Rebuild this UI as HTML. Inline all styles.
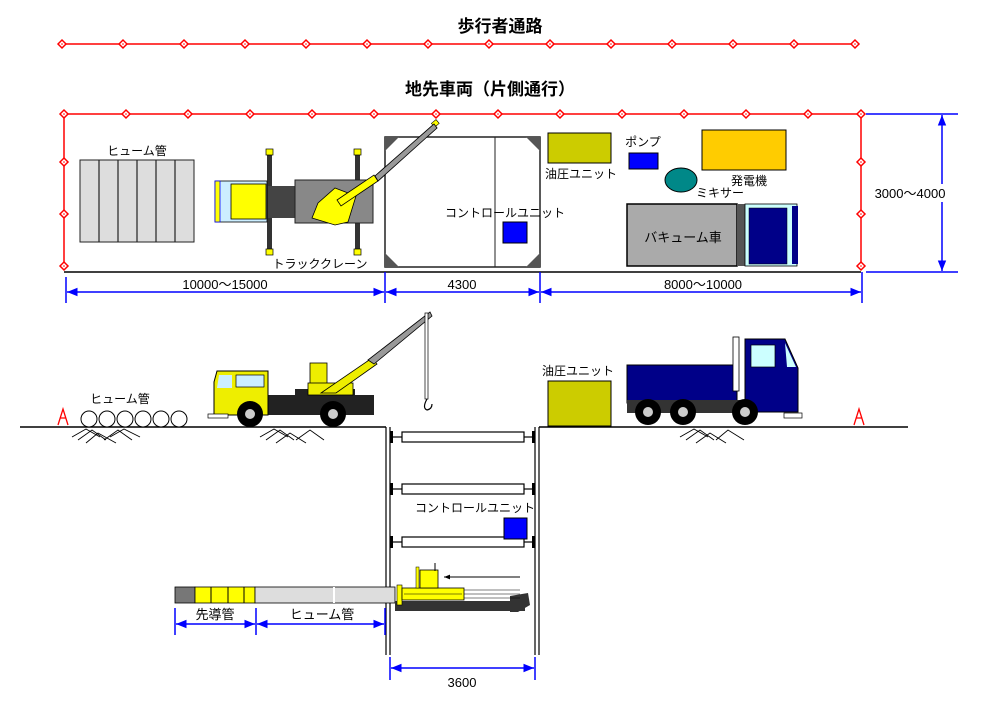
<!DOCTYPE html>
<html><head><meta charset="utf-8"><style>
html,body{margin:0;padding:0;background:#fff;}
svg{display:block;}
text{font-family:"Liberation Sans","Noto Sans CJK JP",sans-serif;}
</style></head><body>
<svg width="1000" height="701" viewBox="0 0 1000 701" xmlns="http://www.w3.org/2000/svg">
<defs>
<g id="mk"><path d="M-4,0 L0,-4 L4,0 L0,4 Z" fill="#fff" stroke="#f00" stroke-width="1.5"/><circle r="0.8" fill="#f00"/></g>
<marker id="ar" viewBox="0 0 10 10" refX="10" refY="5" markerWidth="7" markerHeight="7" orient="auto-start-reverse"><path d="M0,1 L10,5 L0,9 Z" fill="#00f"/></marker>
<marker id="ak" viewBox="0 0 10 10" refX="10" refY="5" markerWidth="6" markerHeight="6" orient="auto"><path d="M0,1 L10,5 L0,9 Z" fill="#000"/></marker>
</defs>

<!-- titles -->
<text x="500" y="32" font-size="17" font-weight="bold" text-anchor="middle">歩行者通路</text>
<text x="490" y="95" font-size="17" font-weight="bold" text-anchor="middle">地先車両（片側通行）</text>

<!-- top fence line -->
<line x1="62" y1="44" x2="858" y2="44" stroke="#f00" stroke-width="1.5"/>
<g>
<use href="#mk" x="62" y="44"/><use href="#mk" x="123" y="44"/><use href="#mk" x="184" y="44"/><use href="#mk" x="245" y="44"/><use href="#mk" x="306" y="44"/><use href="#mk" x="367" y="44"/><use href="#mk" x="428" y="44"/><use href="#mk" x="489" y="44"/><use href="#mk" x="550" y="44"/><use href="#mk" x="611" y="44"/><use href="#mk" x="672" y="44"/><use href="#mk" x="733" y="44"/><use href="#mk" x="794" y="44"/><use href="#mk" x="855" y="44"/>
</g>

<!-- plan fence -->
<polyline points="64,268 64,114 861,114 861,268" fill="none" stroke="#f00" stroke-width="1.5"/>
<line x1="64" y1="272" x2="861" y2="272" stroke="#000" stroke-width="1.5"/>
<g>
<use href="#mk" x="64" y="114"/><use href="#mk" x="126" y="114"/><use href="#mk" x="188" y="114"/><use href="#mk" x="250" y="114"/><use href="#mk" x="312" y="114"/><use href="#mk" x="374" y="114"/><use href="#mk" x="436" y="114"/><use href="#mk" x="498" y="114"/><use href="#mk" x="560" y="114"/><use href="#mk" x="622" y="114"/><use href="#mk" x="684" y="114"/><use href="#mk" x="746" y="114"/><use href="#mk" x="808" y="114"/><use href="#mk" x="861" y="114"/>
<use href="#mk" x="64" y="162"/><use href="#mk" x="64" y="214"/><use href="#mk" x="64" y="266"/>
<use href="#mk" x="861" y="162"/><use href="#mk" x="861" y="214"/><use href="#mk" x="861" y="266"/>
</g>

<!-- plan dimensions -->
<g stroke="#00f" stroke-width="1.5">
<line x1="66" y1="277" x2="66" y2="303"/><line x1="385" y1="272" x2="385" y2="303"/><line x1="540" y1="272" x2="540" y2="303"/><line x1="862" y1="272" x2="862" y2="303"/>
<line x1="67" y1="292" x2="384" y2="292" marker-start="url(#ar)" marker-end="url(#ar)"/>
<line x1="386" y1="292" x2="539" y2="292" marker-start="url(#ar)" marker-end="url(#ar)"/>
<line x1="541" y1="292" x2="861" y2="292" marker-start="url(#ar)" marker-end="url(#ar)"/>
<line x1="866" y1="114" x2="958" y2="114"/><line x1="866" y1="272" x2="958" y2="272"/>
<line x1="942" y1="115" x2="942" y2="271" marker-start="url(#ar)" marker-end="url(#ar)"/>
</g>
<text x="225" y="289" font-size="13" text-anchor="middle">10000～15000</text>
<text x="462" y="289" font-size="13" text-anchor="middle">4300</text>
<text x="703" y="289" font-size="13" text-anchor="middle">8000～10000</text>
<rect x="870" y="184" width="82" height="18" fill="#fff"/>
<text x="910" y="198" font-size="13" text-anchor="middle">3000～4000</text>

<!-- hume pipes plan -->
<text x="137" y="155" font-size="12" text-anchor="middle">ヒューム管</text>
<rect x="80" y="160" width="114" height="82" fill="#ddd" stroke="#222" stroke-width="1"/>
<g stroke="#222" stroke-width="1.2"><line x1="99" y1="160" x2="99" y2="242"/><line x1="118" y1="160" x2="118" y2="242"/><line x1="137" y1="160" x2="137" y2="242"/><line x1="156" y1="160" x2="156" y2="242"/><line x1="175" y1="160" x2="175" y2="242"/></g>

<!-- track crane plan -->
<rect x="267" y="151" width="5" height="102" fill="#333"/><rect x="355" y="151" width="5" height="102" fill="#333"/>
<rect x="266" y="149" width="7" height="6" fill="#ff0" stroke="#000" stroke-width="0.7"/><rect x="354" y="149" width="7" height="6" fill="#ff0" stroke="#000" stroke-width="0.7"/>
<rect x="266" y="249" width="7" height="6" fill="#ff0" stroke="#000" stroke-width="0.7"/><rect x="354" y="249" width="7" height="6" fill="#ff0" stroke="#000" stroke-width="0.7"/>
<rect x="215" y="181" width="52" height="41" fill="#cef" stroke="#000" stroke-width="0.8"/>
<rect x="231" y="184" width="35" height="35" fill="#ff0" stroke="#000" stroke-width="0.8"/>
<rect x="215" y="181" width="5" height="41" fill="#ff0" stroke="#00f" stroke-width="0.8"/>
<rect x="268" y="186" width="28" height="32" fill="#444"/>
<rect x="295" y="180" width="78" height="43" fill="#888" stroke="#222" stroke-width="1"/>
<path d="M335,188 L356,196 L348,222 L335,225 L312,218 L318,203 Z" fill="#ff0" stroke="#000" stroke-width="0.8"/>
<path d="M337,200 L374,175 L378,181 L341,206 Z" fill="#ff0" stroke="#000" stroke-width="0.8"/>
<path d="M375,176 L434,124 L437,128 L378,181 Z" fill="#999" stroke="#000" stroke-width="0.8"/>
<rect x="432" y="121" width="6" height="5" fill="#ff0" stroke="#000" stroke-width="0.6" transform="rotate(-40 435 123)"/>
<text x="320" y="268" font-size="12" text-anchor="middle">トラッククレーン</text>

<!-- control unit plan -->
<rect x="385" y="137" width="155" height="130" fill="#fff" stroke="#222" stroke-width="1.5"/>
<line x1="495" y1="137" x2="495" y2="267" stroke="#222" stroke-width="1"/>
<g fill="#555"><path d="M385,137 L399,137 L385,151 Z"/><path d="M540,137 L526,137 L540,151 Z"/><path d="M385,267 L399,267 L385,253 Z"/><path d="M540,267 L526,267 L540,253 Z"/></g>
<path d="M375,176 L434,124 L437,128 L378,181 Z" fill="#999" stroke="#000" stroke-width="0.8"/>
<rect x="468" y="205" width="78" height="14" fill="#fff" opacity="0"/>
<text x="505" y="217" font-size="12" text-anchor="middle">コントロールユニット</text>
<rect x="503" y="222" width="24" height="21" fill="#00f" stroke="#000" stroke-width="1"/>

<!-- hydraulic etc plan -->
<rect x="548" y="133" width="63" height="30" fill="#cc0" stroke="#000" stroke-width="1"/>
<text x="581" y="178" font-size="12" text-anchor="middle">油圧ユニット</text>
<text x="643" y="146" font-size="12" text-anchor="middle">ポンプ</text>
<rect x="629" y="153" width="29" height="16" fill="#00f" stroke="#000" stroke-width="1"/>
<ellipse cx="681" cy="180" rx="16" ry="12" fill="#088" stroke="#000" stroke-width="1"/>
<text x="720" y="197" font-size="12" text-anchor="middle">ミキサー</text>
<rect x="702" y="130" width="84" height="40" fill="#fc0" stroke="#000" stroke-width="1"/>
<text x="749" y="185" font-size="12" text-anchor="middle">発電機</text>
<rect x="627" y="204" width="110" height="62" fill="#aaa" stroke="#000" stroke-width="1.5"/>
<rect x="737" y="204" width="8" height="62" fill="#555"/>
<rect x="745" y="204" width="52" height="62" fill="#cff" stroke="#000" stroke-width="0.8"/>
<rect x="749" y="208" width="38" height="56" fill="#008" stroke="#000" stroke-width="0.5"/>
<rect x="792" y="206" width="6" height="58" fill="#008"/>
<text x="683" y="242" font-size="13" text-anchor="middle">バキューム車</text>

<!-- section ground -->
<line x1="20" y1="427" x2="386" y2="427" stroke="#000" stroke-width="1.5"/>
<line x1="539" y1="427" x2="908" y2="427" stroke="#000" stroke-width="1.5"/>
<g fill="none" stroke="#000" stroke-width="1.2">
<line x1="386" y1="427" x2="386" y2="655"/><line x1="390" y1="427" x2="390" y2="655"/>
<line x1="535" y1="427" x2="535" y2="655"/><line x1="539" y1="427" x2="539" y2="655"/>
<rect x="402" y="432" width="122" height="10" fill="#fff"/>
<rect x="402" y="484" width="122" height="10" fill="#fff"/>
<rect x="402" y="537" width="122" height="10" fill="#fff"/>
<line x1="390" y1="437" x2="402" y2="437"/><line x1="524" y1="437" x2="535" y2="437"/>
<line x1="390" y1="489" x2="402" y2="489"/><line x1="524" y1="489" x2="535" y2="489"/>
<line x1="390" y1="542" x2="402" y2="542"/><line x1="524" y1="542" x2="535" y2="542"/>
</g>
<g fill="#000">
<rect x="390" y="431" width="3" height="12"/><rect x="532" y="431" width="3" height="12"/>
<rect x="390" y="483" width="3" height="12"/><rect x="532" y="483" width="3" height="12"/>
<rect x="390" y="536" width="3" height="12"/><rect x="532" y="536" width="3" height="12"/>
</g>

<!-- hatching -->
<g stroke="#000" stroke-width="0.9" fill="none">
<path d="M72,437 L86,429 L100,437 M78,440 L92,430 L106,440 M86,443 L98,433 L116,443 M104,440 L118,430 L132,440 M110,437 L124,429 L140,437"/>
<path d="M260,437 L274,429 L288,437 M266,440 L280,430 L294,440 M276,443 L290,433 L306,443 M296,440 L310,430 L324,440"/>
<path d="M680,437 L694,429 L708,437 M686,440 L700,430 L714,440 M696,443 L710,433 L726,443 M716,440 L728,430 L744,440"/>
</g>
<text x="120" y="403" font-size="12" text-anchor="middle">ヒューム管</text>
<g fill="#fff" stroke="#000" stroke-width="1">
<circle cx="89" cy="419" r="8"/><circle cx="107" cy="419" r="8"/><circle cx="125" cy="419" r="8"/><circle cx="143" cy="419" r="8"/><circle cx="161" cy="419" r="8"/><circle cx="179" cy="419" r="8"/>
</g>
<g fill="none" stroke="#f00" stroke-width="1.3"><path d="M58,425 L63,409 L68,425 M60,418 L66,418"/><path d="M854,425 L859,409 L864,425 M856,418 L862,418"/></g>

<!-- side crane truck -->
<rect x="268" y="395" width="106" height="20" fill="#222"/>
<rect x="295" y="389" width="60" height="8" fill="#222"/>
<path d="M217,371 L268,371 L268,415 L214,415 L214,382 Z" fill="#ee0" stroke="#000" stroke-width="1"/>
<rect x="236" y="375" width="28" height="12" fill="#cef" stroke="#000" stroke-width="0.7"/>
<path d="M219,375 L232,375 L232,388 L217,388 Z" fill="#cef"/>
<rect x="208" y="414" width="20" height="4" fill="#fff" stroke="#000" stroke-width="0.7"/>
<rect x="310" y="363" width="17" height="26" fill="#ee0" stroke="#000" stroke-width="0.8"/>
<rect x="308" y="383" width="45" height="12" fill="#ee0" stroke="#000" stroke-width="0.8"/>
<path d="M321,393 L372,358 L377,364 L336,393 Z" fill="#ee0" stroke="#000" stroke-width="0.8"/>
<path d="M368,360 L430,312 L432,316 L374,364 Z" fill="#999" stroke="#000" stroke-width="0.8"/>
<rect x="425" y="313" width="3" height="86" fill="#fff" stroke="#000" stroke-width="0.7"/>
<path d="M427,399 Q422,408 427,410 Q432,409 432,404" fill="none" stroke="#000" stroke-width="1.2"/>
<circle cx="250" cy="414" r="13" fill="#000"/><circle cx="250" cy="414" r="5" fill="#ccc"/>
<circle cx="333" cy="414" r="13" fill="#000"/><circle cx="333" cy="414" r="5" fill="#ccc"/>

<!-- hydraulic section -->
<text x="578" y="375" font-size="12" text-anchor="middle">油圧ユニット</text>
<rect x="548" y="381" width="63" height="45" fill="#cc0" stroke="#000" stroke-width="1"/>

<!-- side vacuum truck -->
<rect x="627" y="365" width="110" height="38" fill="#008" stroke="#000" stroke-width="1"/>
<rect x="627" y="400" width="120" height="13" fill="#333"/>
<rect x="733" y="337" width="6" height="54" fill="#fff" stroke="#000" stroke-width="0.8"/>
<path d="M745,339 L785,339 L798,368 L798,412 L745,412 Z" fill="#008" stroke="#000" stroke-width="1"/>
<rect x="751" y="345" width="24" height="22" fill="#cff" stroke="#000" stroke-width="0.7"/>
<path d="M785,343 L796,367 L787,367 Z" fill="#cff"/>
<rect x="784" y="413" width="18" height="5" fill="#fff" stroke="#000" stroke-width="0.7"/>
<circle cx="648" cy="412" r="13" fill="#000"/><circle cx="648" cy="412" r="5" fill="#ccc"/>
<circle cx="683" cy="412" r="13" fill="#000"/><circle cx="683" cy="412" r="5" fill="#ccc"/>
<circle cx="745" cy="412" r="13" fill="#000"/><circle cx="745" cy="412" r="5" fill="#ccc"/>

<!-- control unit section -->
<text x="475" y="512" font-size="12" text-anchor="middle">コントロールユニット</text>
<rect x="504" y="518" width="23" height="21" fill="#00f" stroke="#000" stroke-width="1"/>

<!-- pipe line -->
<rect x="175" y="587" width="20" height="16" fill="#777" stroke="#000" stroke-width="0.8"/>
<rect x="195" y="587" width="60" height="16" fill="#ff0" stroke="#000" stroke-width="0.8"/>
<g stroke="#000" stroke-width="1"><line x1="211" y1="587" x2="211" y2="603"/><line x1="228" y1="587" x2="228" y2="603"/><line x1="244" y1="587" x2="244" y2="603"/></g>
<rect x="255" y="587" width="140" height="16" fill="#ddd" stroke="#000" stroke-width="0.8"/>
<line x1="334" y1="587" x2="334" y2="603" stroke="#fff" stroke-width="2"/>

<!-- machine -->
<rect x="395" y="601" width="130" height="10" fill="#333"/>
<path d="M510,596 L528,593 L530,605 L518,612 L510,612 Z" fill="#333"/>
<rect x="397" y="585" width="5" height="20" fill="#ff0" stroke="#000" stroke-width="0.6"/>
<rect x="402" y="588" width="62" height="12" fill="#ff0" stroke="#000" stroke-width="0.8"/>
<line x1="404" y1="594" x2="462" y2="594" stroke="#000" stroke-width="0.6"/>
<g stroke="#000" stroke-width="0.6"><line x1="464" y1="590" x2="520" y2="590"/><line x1="464" y1="594" x2="520" y2="594"/><line x1="464" y1="598" x2="520" y2="598"/></g>
<rect x="420" y="570" width="18" height="18" fill="#ff0" stroke="#000" stroke-width="0.8"/>
<rect x="416" y="567" width="3" height="21" fill="#ff0" stroke="#000" stroke-width="0.5"/>
<line x1="435" y1="563" x2="435" y2="571" stroke="#000"/>
<line x1="520" y1="577" x2="444" y2="577" stroke="#000" stroke-width="1" marker-end="url(#ak)"/>

<!-- bottom dims -->
<g stroke="#00f" stroke-width="1.5">
<line x1="175" y1="608" x2="175" y2="635"/><line x1="256" y1="608" x2="256" y2="635"/><line x1="385" y1="608" x2="385" y2="635"/>
<line x1="176" y1="624" x2="255" y2="624" marker-start="url(#ar)" marker-end="url(#ar)"/>
<line x1="257" y1="624" x2="384" y2="624" marker-start="url(#ar)" marker-end="url(#ar)"/>
<line x1="390" y1="657" x2="390" y2="680"/><line x1="535" y1="657" x2="535" y2="680"/>
<line x1="391" y1="668" x2="534" y2="668" marker-start="url(#ar)" marker-end="url(#ar)"/>
</g>
<text x="215" y="619" font-size="13" text-anchor="middle">先導管</text>
<text x="322" y="619" font-size="13" text-anchor="middle">ヒューム管</text>
<text x="462" y="687" font-size="13" text-anchor="middle">3600</text>
</svg>
</body></html>
